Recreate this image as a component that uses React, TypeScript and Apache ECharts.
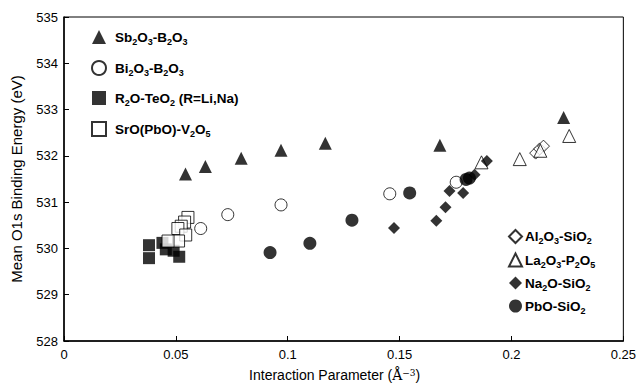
import React, { useEffect, useRef } from "react";
import * as echarts from "echarts";

// Interaction parameter (Å^-3) vs mean O1s binding energy (eV)
const sb2o3B2o3: [number, number][] = [
  [0.0543, 531.61], [0.0632, 531.77], [0.0792, 531.95], [0.097, 532.12],
  [0.1168, 532.27], [0.168, 532.23], [0.2233, 532.83],
];
const bi2o3B2o3: [number, number][] = [
  [0.0611, 530.43], [0.0732, 530.73], [0.097, 530.94], [0.1456, 531.18], [0.1753, 531.43],
];
const r2oTeo2: [number, number][] = [
  [0.038, 530.07], [0.038, 529.79], [0.044, 530.12], [0.0455, 529.98], [0.049, 529.95], [0.0515, 529.82],
];
const sroV2o5: [number, number][] = [
  [0.0554, 530.67], [0.0539, 530.57], [0.0524, 530.48], [0.0509, 530.43],
  [0.0544, 530.29], [0.0512, 530.16], [0.0465, 530.16],
];
const al2o3Sio2: [number, number][] = [
  [0.2108, 532.06], [0.2126, 532.15], [0.2143, 532.21],
];
const la2o3P2o5: [number, number][] = [
  [0.1866, 531.86], [0.2037, 531.93], [0.2129, 532.11], [0.2258, 532.43],
];
const na2oSio2: [number, number][] = [
  [0.1475, 530.44], [0.1664, 530.6], [0.1705, 530.89], [0.1723, 531.24],
  [0.1784, 531.2], [0.1835, 531.59], [0.189, 531.89],
];
const pboSio2: [number, number][] = [
  [0.0921, 529.91], [0.1099, 530.11], [0.1287, 530.61], [0.1545, 531.2],
  [0.1797, 531.49], [0.1812, 531.52],
];

const leftLegend = ["Sb2O3-B2O3", "Bi2O3-B2O3", "R2O-TeO2 (R=Li,Na)", "SrO(PbO)-V2O5"];
const rightLegend = ["Al2O3-SiO2", "La2O3-P2O5", "Na2O-SiO2", "PbO-SiO2"];

const FONT = "Liberation Sans, Arial, sans-serif";

function subFormat(name: string): string {
  return name
    .split(/(\d+)/)
    .filter((s) => s.length > 0)
    .map((s) => (/^\d+$/.test(s) ? `{s|${s}}` : `{a|${s}}`))
    .join("");
}

const legendRich = {
  a: { fontSize: 13.5, fontWeight: "bold", fontFamily: FONT, color: "#000", lineHeight: 18, verticalAlign: "middle" },
  s: { fontSize: 9, fontWeight: "bold", fontFamily: FONT, color: "#000", lineHeight: 18, verticalAlign: "bottom" },
};

export default function App() {
  const ref = useRef<HTMLDivElement>(null);
  useEffect(() => {
    document.body.style.margin = "0";
    if (!ref.current) return;
    const chart = echarts.init(ref.current, undefined, { renderer: "svg" });
    const open = { color: "#fff", borderColor: "#000", borderWidth: 1 };
    const filled = { color: "#000", borderColor: "#000", borderWidth: 0 };
    const mk = (name: string, data: [number, number][], symbol: string, size: number, style: any) => ({
      name,
      type: "scatter",
      data,
      symbol,
      symbolSize: size,
      itemStyle: style,
      emphasis: { disabled: true },
    });
    chart.setOption({
      animation: false,
      grid: { left: 64, right: 14, top: 17, bottom: 44, show: true, borderColor: "#000", borderWidth: 1, backgroundColor: "transparent" },
      xAxis: {
        type: "value",
        min: 0,
        max: 0.25,
        interval: 0.05,
        name: "Interaction Parameter ({ang|Å}{sup|−3})",
        nameLocation: "middle",
        nameGap: 27,
        nameTextStyle: {
          fontFamily: FONT,
          fontSize: 14,
          color: "#000",
          padding: [0, 18, 0, 0],
          rich: {
            ang: { fontFamily: "DejaVu Serif, serif", fontSize: 14, color: "#000" },
            sup: { fontFamily: "DejaVu Serif, serif", fontSize: 9, color: "#000", verticalAlign: "top", lineHeight: 10 },
          },
        },
        axisLine: { onZero: false, lineStyle: { color: "#000", width: 1.5 } },
        axisTick: { inside: true, length: 5, lineStyle: { color: "#000" } },
        axisLabel: { color: "#000", fontFamily: FONT, fontSize: 13, margin: 7 },
        splitLine: { show: false },
      },
      yAxis: {
        type: "value",
        min: 528,
        max: 535,
        interval: 1,
        name: "Mean O1s Binding Energy (eV)",
        nameLocation: "middle",
        nameGap: 40,
        nameTextStyle: { fontFamily: FONT, fontSize: 15, color: "#000" },
        axisLine: { onZero: false, lineStyle: { color: "#000", width: 1.5 } },
        axisTick: { inside: true, length: 5, lineStyle: { color: "#000" } },
        axisLabel: { color: "#000", fontFamily: FONT, fontSize: 13, margin: 6 },
        splitLine: { show: false },
      },
      legend: [
        {
          data: leftLegend,
          orient: "vertical",
          left: 86,
          top: 25,
          itemWidth: 14,
          itemHeight: 14,
          itemGap: 14,
          formatter: (n: string) => subFormat(n),
          textStyle: { rich: legendRich, padding: [0, 0, 0, 4] },
          selectedMode: false,
        },
        {
          data: rightLegend,
          orient: "vertical",
          left: 503,
          top: 224,
          itemWidth: 13,
          itemHeight: 13,
          itemGap: 7,
          formatter: (n: string) => subFormat(n),
          textStyle: { rich: legendRich, padding: [0, 0, 0, -2] },
          selectedMode: false,
        },
      ],
      series: [
        mk("Sb2O3-B2O3", sb2o3B2o3, "triangle", 13, filled),
        mk("Bi2O3-B2O3", bi2o3B2o3, "circle", 12, open),
        mk("R2O-TeO2 (R=Li,Na)", r2oTeo2, "rect", 12, filled),
        mk("SrO(PbO)-V2O5", sroV2o5, "rect", 12, open),
        mk("Al2O3-SiO2", al2o3Sio2, "diamond", 12, open),
        mk("La2O3-P2O5", la2o3P2o5, "triangle", 13, open),
        mk("Na2O-SiO2", na2oSio2, "diamond", 12, filled),
        mk("PbO-SiO2", pboSio2, "circle", 13, filled),
      ],
    });
    return () => chart.dispose();
  }, []);
  return <div ref={ref} style={{ width: 639, height: 387 }} />;
}
